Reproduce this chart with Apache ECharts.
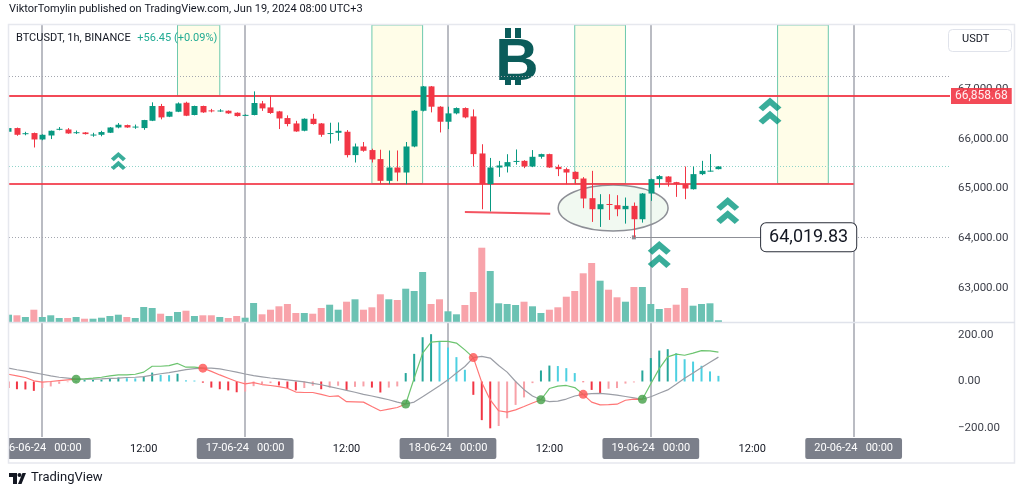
<!DOCTYPE html>
<html><head><meta charset="utf-8">
<script src="https://cdn.jsdelivr.net/npm/echarts@6/dist/echarts.min.js"></script>
<style>html,body{margin:0;padding:0;background:#fff}#c{width:1024px;height:496px}</style>
</head><body><div id="c"></div>
<script>
// ---- data (hours relative to 16-06-24 00:00, UTC+3) ----
const barHours = [-4,-3,-2,-1,0,1,2,3,4,5,6,7,8,9,10,11,12,13,14,15,16,17,18,19,20,21,22,23,24,25,26,27,28,29,30,31,32,33,34,35,36,37,38,39,40,41,42,43,44,45,46,47,48,49,50,51,52,53,54,55,56,57,58,59,60,61,62,63,64,65,66,67,68,69,70,71,72,73,74,75,76,77,78,79,80];
const opens = [66141,66215,66100,66115,65986,66066,66185,66187,66120,66127,66075,66080,66121,66227,66275,66235,66215,66362,66658,66443,66543,66724,66477,66658,66570,66558,66563,66523,66472,66477,66710,66630,66550,66416,66308,66161,66402,66308,66100,66120,66141,65672,65845,65773,65592,65155,65423,65322,65845,66563,67052,66644,66342,66510,66617,66449,65705,65088,65423,65443,65545,65557,65443,65638,65692,65437,65390,65336,65202,64807,64585,64690,64666,64585,64652,64384,64900,65189,65242,65129,65088,64987,65290,65350,65390];
const closes = [66215,66080,66112,65986,66080,66161,66200,66107,66132,66094,66085,66135,66227,66282,66227,66245,66376,66658,66429,66543,66710,66463,66658,66530,66560,66568,66510,66456,66480,66718,66610,66517,66408,66296,66147,66402,66296,66080,66115,66160,65672,65845,65759,65584,65155,65423,65322,65845,66563,67052,66644,66342,66510,66617,66429,65692,65088,65423,65463,65531,65555,65443,65638,65692,65423,65390,65322,65190,64800,64585,64686,64680,64585,64652,64384,64900,65189,65250,65121,65088,65000,65290,65356,65360,65443];
const lows = [66120,66060,66070,65825,65970,65994,66170,66100,66095,66085,66040,66050,66115,66210,66220,66200,66180,66355,66390,66435,66535,66455,66470,66520,66530,66540,66500,66445,66465,66470,66560,66500,66195,66250,66140,66150,66285,66040,65905,65960,65625,65523,65740,65523,65088,65088,65148,65088,65830,66550,66530,66127,66194,66490,66410,65443,64585,64540,65235,65323,65480,65410,65430,65600,65415,65250,65088,65088,64606,64330,64229,64370,64444,64296,64019.83,64316,64753,65020,65040,64833,64787,64980,65270,65340,65385];
const highs = [66230,66225,66140,66125,66090,66165,66235,66215,66165,66135,66120,66160,66235,66315,66285,66285,66380,66732,66700,66550,66730,66744,66665,66665,66600,66595,66570,66530,66490,66952,66760,66865,66560,66470,66360,66410,66500,66315,66322,66328,66175,65905,65935,65800,65780,65765,65765,65935,66575,67060,67060,66655,66644,66630,66630,66590,65890,65615,65555,65690,65785,65570,65773,65700,65700,65480,65420,65345,65230,65356,64887,64887,64867,64820,64720,64910,65200,65270,65250,65135,65443,65443,65557,65692,65450];
const volumes = [292,268,200,492,200,268,160,160,200,132,132,172,240,292,200,160,600,560,332,240,400,452,240,268,268,200,160,240,172,760,308,492,628,720,360,360,332,560,692,492,812,908,492,588,1108,908,880,1332,1240,2000,720,908,428,308,680,1200,2972,2040,748,720,680,812,628,360,492,588,1012,1240,1948,2360,1652,1292,988,812,1400,1400,720,520,560,692,1360,652,720,748,68];
const macdLine = [31,24,17,3,-3,0,4,7,10,11,14,18,24,28,28,31,40,65,65,68,77,61,61,57,43,28,14,0,-10,-5,-13,-17,-22,-29,-45,-47,-47,-55,-64,-61,-86,-87,-88,-107,-125,-118,-111,-96,14,121,168,171,171,164,135,102,-4,-79,-125,-131,-121,-107,-92,-78,-30,-20,-17,-26,-55,-88,-100,-99,-97,-80,-75,-76,-10,55,105,117,112,121,132,131,125];
const signalLine = [57,50,44,38,31,24,18,14,10,10,10,11,13,14,17,18,21,27,33,38,44,51,55,57,57,54,47,40,32,25,20,15,11,7,3,-2,-8,-14,-22,-30,-38,-46,-55,-62,-70,-78,-88,-96,-88,-65,-42,-18,7,36,64,102,107,100,68,40,0,-35,-62,-78,-86,-84,-75,-62,-55,-52,-51,-54,-58,-64,-70,-76,-65,-50,-36,-12,14,36,60,82,104];
const histogram = [-28,-33,-34,-40,-28,-21,-10,-3,2,6,7,8,11,17,14,13,21,38,28,27,33,5,4,-5,-26,-33,-38,-46,-43,-20,-11,-7,-17,-28,-38,-28,-18,-33,-26,-18,-36,-23,-21,-26,-47,-26,-21,36,118,189,202,171,145,104,50,-57,-165,-200,-190,-157,-100,-68,-7,47,68,66,57,36,-3,-36,-50,-31,-28,-9,-4,47,100,132,138,121,95,85,67,43,24];
const crossUpHours = [4, 43, 59, 71];
const crossDownHours = [19, 51, 64];

const priceTicks = [63000, 64000, 65000, 66000, 67000];
const macdTicks = [-200, 0, 200];
const tickHours = [0, 12, 24, 36, 48, 60, 72, 84, 96];
const tickLabels = ['16-06-24   00:00','12:00','17-06-24   00:00','12:00','18-06-24   00:00','12:00','19-06-24   00:00','12:00','20-06-24   00:00'];
const dayHours = [0, 24, 48, 72, 96];

const resistance = 66858.68;
const support = 65098;
const zoneHours = [[16, 21], [39, 45], [63, 69], [87, 93]];
const lowSweep = [[50, 64530], [60.1, 64495]];
const grayLevel = 67261, tealLevel = 65454;
const lowLevel = 64019.83, lowHour = 70, calloutHour = 85.05;
const ellipseData = [[67.54, 64610, 6.5, 462]];
const smallArrows = [[9.0, 65554]];
const bigArrows = [[86.1, 66558], [81.1, 64560], [73.0, 63677]];

// ---- chart ----
const XMIN = -3.94, XMAX = 107.4;
const PMIN = 62320, PMAX = 68285;
const UP = '#089981', DOWN = '#f23645';
const FONT = 'Roboto, "Noto Sans", sans-serif';
const fmtPrice = v => v.toLocaleString('en-US', {minimumFractionDigits: 2, maximumFractionDigits: 2});

const candleData = barHours.map((h, i) => [h, opens[i], closes[i], lows[i], highs[i]]);
const volData = barHours.map((h, i) => ({value: [h, volumes[i]], itemStyle: {color: closes[i] >= opens[i] ? '#6bc2b3' : '#f8a3aa'}}));
const histData = barHours.map((h, i) => {
  const v = histogram[i], p = i > 0 ? histogram[i - 1] : v;
  let c;
  if (v >= 0) c = v > p ? '#26a69a' : '#4dd0e1';
  else c = v < p || i === 0 ? '#f23645' : '#f8a1a8';
  return {value: [h, v], itemStyle: {color: c}};
});
const segGreen = [];
for (let i = 0; i < barHours.length - 1; i++) {
  segGreen.push((macdLine[i] + macdLine[i + 1]) - (signalLine[i] + signalLine[i + 1]) > 0);
}
const greenPts = barHours.map((h, i) => [h, ((i > 0 && segGreen[i - 1]) || (i < segGreen.length && segGreen[i])) ? macdLine[i] : '-']);
const redPts = barHours.map((h, i) => [h, ((i > 0 && !segGreen[i - 1]) || (i < segGreen.length && !segGreen[i])) ? macdLine[i] : '-']);
const upDots = crossUpHours.map(h => [h, signalLine[barHours.indexOf(h)]]);
const downDots = crossDownHours.map(h => [h, signalLine[barHours.indexOf(h)]]);

function renderCandle(params, api) {
  const h = api.value(0), o = api.value(1), c = api.value(2), l = api.value(3), hi = api.value(4);
  const pO = api.coord([h, o]), pC = api.coord([h, c]), pL = api.coord([h, l]), pH = api.coord([h, hi]);
  const color = c >= o ? UP : DOWN;
  const x = Math.round(pO[0]);
  const w = 6;
  const top = Math.min(pO[1], pC[1]);
  const ht = Math.max(Math.abs(pO[1] - pC[1]), 1);
  return {type: 'group', children: [
    {type: 'line', shape: {x1: x + 0.5, y1: pH[1], x2: x + 0.5, y2: pL[1]}, style: {stroke: color, lineWidth: 1}},
    {type: 'rect', shape: {x: x + 0.5 - w / 2, y: top, width: w, height: ht}, style: {fill: color}}
  ]};
}
function renderDayLine(params, api) {
  const cs = params.coordSys;
  const p = api.coord([api.value(0), 0]);
  const x = Math.round(p[0]);
  return {type: 'line', shape: {x1: x, y1: cs.y, x2: x, y2: cs.y + cs.height}, style: {stroke: '#a3a6af', lineWidth: 1.5}};
}
function renderEllipse(params, api) {
  const c = api.coord([api.value(0), api.value(1)]);
  const s = api.size([api.value(2), api.value(3)]);
  return {type: 'ellipse', shape: {cx: c[0], cy: c[1], rx: s[0], ry: s[1]},
    style: {fill: 'rgba(200,230,201,0.25)', stroke: '#8d8f96', lineWidth: 1.5}};
}
const chevron = 'path://M0,9 L9,0 L18,9 L14.5,12.5 L9,7 L3.5,12.5 Z M0,21 L9,12 L18,21 L14.5,24.5 L9,19 L3.5,24.5 Z';

const gridBox = {left: 9, right: 74, outerBoundsMode: 'none', containLabel: false};
const hiddenX = (gi) => ({type: 'value', gridIndex: gi, min: XMIN, max: XMAX, show: false});
const chart = echarts.init(document.getElementById('c'), null, {renderer: 'canvas'});
chart.setOption({
  animation: false,
  backgroundColor: '#ffffff',
  textStyle: {fontFamily: FONT},
  grid: [
    Object.assign({top: 25, height: 297}, gridBox),   // price
    Object.assign({top: 25, height: 297}, gridBox),   // volume
    Object.assign({top: 322, height: 115}, gridBox),  // macd
    Object.assign({top: 25, height: 412}, gridBox)    // frame / time axis
  ],
  xAxis: [hiddenX(0), hiddenX(1), hiddenX(2), {
    type: 'value', gridIndex: 3, min: XMIN, max: XMAX, position: 'bottom',
    axisLine: {show: false}, axisTick: {show: false}, splitLine: {show: false},
    axisLabel: {
      customValues: tickHours, margin: 1, hideOverlap: false,
      formatter: v => { const s = tickLabels[tickHours.indexOf(Math.round(v))] || ''; return s.indexOf('-') >= 0 ? '{d|' + s + '}' : '{t|' + s + '}'; },
      rich: {
        d: {color: '#ffffff', backgroundColor: '#7b7f8a', padding: [5, 9, 5, 9], borderRadius: 2, fontSize: 11, fontFamily: FONT},
        t: {color: '#131722', fontSize: 11, padding: [6, 0, 5, 0], fontFamily: FONT}
      }
    }
  }],
  yAxis: [
    {type: 'value', gridIndex: 0, min: PMIN, max: PMAX, position: 'right', axisLine: {show: false}, axisTick: {show: false}, splitLine: {show: false},
      axisLabel: {customValues: priceTicks, formatter: fmtPrice, color: '#3b3e48', fontSize: 11.5, margin: 8, fontFamily: FONT}},
    {type: 'value', gridIndex: 1, min: 0, max: 11880, show: false},
    {type: 'value', gridIndex: 2, min: -237, max: 254, position: 'right', axisLine: {show: false}, axisTick: {show: false}, splitLine: {show: false},
      axisLabel: {customValues: macdTicks, formatter: v => (v < 0 ? '\u2212' : '') + Math.abs(v).toFixed(2), color: '#3b3e48', fontSize: 11.5, margin: 8, fontFamily: FONT}},
    {type: 'value', gridIndex: 3, min: 0, max: 1, show: false}
  ],
  series: [
    {type: 'custom', name: 'days', xAxisIndex: 3, yAxisIndex: 3, data: dayHours.map(h => [h]), renderItem: renderDayLine, z: 1, silent: true},
    {type: 'bar', name: 'Volume', xAxisIndex: 1, yAxisIndex: 1, data: volData, barWidth: 7, z: 2, silent: true},
    {type: 'custom', name: 'ellipse', xAxisIndex: 0, yAxisIndex: 0, data: ellipseData, renderItem: renderEllipse, z: 2, silent: true,
      markArea: {silent: true, itemStyle: {color: '#fffde8', borderColor: '#6cc9ad', borderWidth: 1},
        data: zoneHours.map((z, i) => [{xAxis: z[0], yAxis: PMAX}, {xAxis: z[1], yAxis: i === 0 ? resistance : support}])}
    },
    {type: 'custom', name: 'BTCUSDT', xAxisIndex: 0, yAxisIndex: 0, data: candleData, renderItem: renderCandle, clip: true, z: 5, silent: true},
    {type: 'line', name: 'levels', xAxisIndex: 0, yAxisIndex: 0, data: [], z: 4, silent: true,
      markLine: {silent: true, symbol: ['none', 'none'], animation: false, label: {show: false},
        data: [
          {yAxis: grayLevel, lineStyle: {color: '#a3a6af', width: 1, type: [1, 2]}},
          {yAxis: tealLevel, lineStyle: {color: '#8fd3c9', width: 1.2, type: [1, 2]}},
          {yAxis: lowLevel, lineStyle: {color: '#a3a6af', width: 1, type: [1, 2]}},
          [{coord: [XMIN, support], lineStyle: {color: '#f23645', width: 2, type: 'solid', opacity: 0.85}}, {coord: [96, support]}],
          [{coord: lowSweep[0], lineStyle: {color: '#f23645', width: 2, type: 'solid', opacity: 0.85}}, {coord: lowSweep[1]}],
          [{coord: [lowHour, lowLevel], symbol: 'rect', symbolSize: 4, lineStyle: {color: '#8d8f96', width: 1.2, type: 'solid'},
            label: {show: true, position: 'end', distance: 0, formatter: fmtPrice(lowLevel), color: '#131722', fontSize: 18, fontFamily: FONT,
              backgroundColor: '#ffffff', borderColor: '#2a2e39', borderWidth: 1, borderRadius: 5, padding: [5, 8, 5, 8]}},
           {coord: [calloutHour, lowLevel], symbol: 'none'}],
          {yAxis: resistance, lineStyle: {color: '#f23645', width: 2, type: 'solid', opacity: 0.9},
            label: {show: true, position: 'end', distance: 1, formatter: fmtPrice(resistance), color: '#ffffff', backgroundColor: '#f23645', padding: [2, 4, 2, 4], fontSize: 12, fontFamily: FONT}}
        ]}
    },
    {type: 'scatter', name: 'arrowsSmall', xAxisIndex: 0, yAxisIndex: 0, data: smallArrows, symbol: chevron, symbolSize: [15, 18], itemStyle: {color: UP}, z: 6, silent: true},
    {type: 'scatter', name: 'arrowsBig', xAxisIndex: 0, yAxisIndex: 0, data: bigArrows, symbol: chevron, symbolSize: [23, 27], itemStyle: {color: UP}, z: 6, silent: true},
    {type: 'bar', name: 'Histogram', xAxisIndex: 2, yAxisIndex: 2, data: histData, barWidth: 2, z: 3, silent: true},
    {type: 'line', name: 'Signal', xAxisIndex: 2, yAxisIndex: 2, data: barHours.map((h, i) => [h, signalLine[i]]), showSymbol: false, lineStyle: {color: '#9b9ea6', width: 1.2}, z: 4, silent: true},
    {type: 'line', name: 'MACD up', xAxisIndex: 2, yAxisIndex: 2, data: greenPts, showSymbol: false, connectNulls: false, lineStyle: {color: '#6cc46f', width: 1.2}, z: 5, silent: true},
    {type: 'line', name: 'MACD down', xAxisIndex: 2, yAxisIndex: 2, data: redPts, showSymbol: false, connectNulls: false, lineStyle: {color: '#ff7676', width: 1.2}, z: 5, silent: true},
    {type: 'scatter', name: 'cross up', xAxisIndex: 2, yAxisIndex: 2, data: upDots, symbolSize: 9, itemStyle: {color: '#43a047'}, z: 7, silent: true},
    {type: 'scatter', name: 'cross down', xAxisIndex: 2, yAxisIndex: 2, data: downDots, symbolSize: 9, itemStyle: {color: '#ff5252'}, z: 7, silent: true}
  ],
  graphic: [
    {type: 'rect', shape: {x: 0, y: 20, width: 8.5, height: 443}, style: {fill: '#ffffff'}, z: 99, silent: true},
    {type: 'rect', shape: {x: 8.5, y: 24.5, width: 1006, height: 438.5}, style: {fill: 'none', stroke: '#e6e8ee', lineWidth: 1.5}, z: 100, silent: true},
    {type: 'line', shape: {x1: 9, y1: 322.5, x2: 1015, y2: 322.5}, style: {stroke: '#e0e3eb', lineWidth: 1.5}, z: 100, silent: true},
    {type: 'text', left: 9, top: 4, style: {text: 'ViktorTomylin published on TradingView.com, Jun 19, 2024 08:00 UTC+3', fill: '#131722', font: '11px ' + FONT}, z: 100},
    {type: 'text', left: 16, top: 32, style: {rich: {a: {fill: '#131722', font: '11px ' + FONT}, b: {fill: '#22ab94', font: '11px ' + FONT}}, text: '{a|BTCUSDT, 1h, BINANCE}  {b|+56.45 (+0.09%)}'}, z: 100},
    {type: 'group', z: 100, children: [
      {type: 'rect', shape: {x: 505, y: 28, width: 6, height: 10}, style: {fill: '#0b5c5a'}},
      {type: 'rect', shape: {x: 515, y: 28, width: 6, height: 10}, style: {fill: '#0b5c5a'}},
      {type: 'rect', shape: {x: 505, y: 75, width: 6, height: 10}, style: {fill: '#0b5c5a'}},
      {type: 'rect', shape: {x: 515, y: 75, width: 6, height: 10}, style: {fill: '#0b5c5a'}},
      {type: 'text', x: 517, y: 33, style: {text: 'B', fill: '#0b5c5a', font: 'bold 60px "Liberation Sans", Arial, sans-serif', textAlign: 'center', textVerticalAlign: 'top'}}
    ]},
    {type: 'rect', shape: {x: 948.5, y: 29.5, width: 63, height: 22, r: 4}, style: {fill: '#ffffff', stroke: '#e0e3eb', lineWidth: 1}, z: 100},
    {type: 'text', left: 962, top: 34, style: {text: 'USDT', fill: '#131722', font: '11px ' + FONT}, z: 101},
    {type: 'group', z: 100, children: [
      {type: 'rect', shape: {x: 9, y: 473, width: 8, height: 4}, style: {fill: '#131722'}},
      {type: 'rect', shape: {x: 13, y: 473, width: 4, height: 11}, style: {fill: '#131722'}},
      {type: 'circle', shape: {cx: 19.5, cy: 475, r: 2}, style: {fill: '#131722'}},
      {type: 'polygon', shape: {points: [[18, 484], [22.5, 473], [26, 473], [21.5, 484]]}, style: {fill: '#131722'}},
      {type: 'text', left: 31, top: 471, style: {text: 'TradingView', fill: '#131722', font: '13px ' + FONT}}
    ]}
  ]
});
</script>
</body></html>
